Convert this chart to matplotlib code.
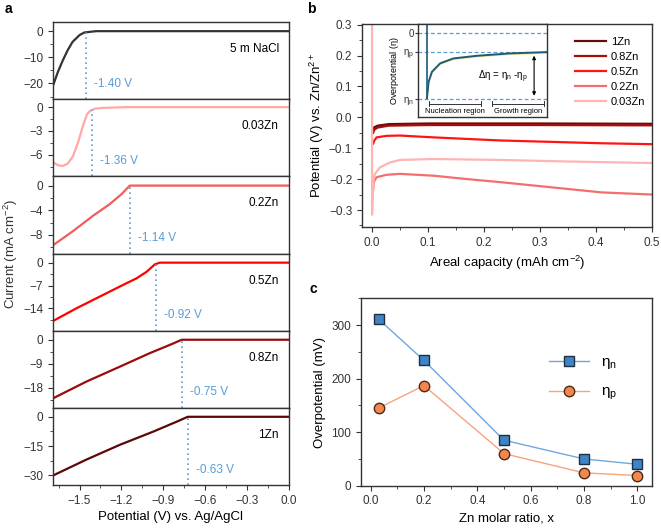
import numpy as np
import matplotlib
matplotlib.use('Agg')
import matplotlib.pyplot as plt
from matplotlib.ticker import MultipleLocator, AutoMinorLocator

plt.rcParams['font.family'] = ['Liberation Sans', 'DejaVu Sans']
plt.rcParams['mathtext.default'] = 'regular'
plt.rcParams['axes.edgecolor'] = '#333333'
plt.rcParams['axes.linewidth'] = 1.0
plt.rcParams['xtick.color'] = '#333333'
plt.rcParams['ytick.color'] = '#333333'

# ---------- panel a: LSV curves ----------
lsv_names = ['5 m NaCl', '0.03Zn', '0.2Zn', '0.5Zn', '0.8Zn', '1Zn']
lsv_onset_labels = ['-1.40 V', '-1.36 V', '-1.14 V', '-0.92 V', '-0.75 V', '-0.63 V']
lsv_onset_pos = [-1.455, -1.41, -1.14, -0.955, -0.768, -0.725]

v_nacl = [-1.69, -1.655, -1.62, -1.585, -1.55, -1.50, -1.465, -1.38, 0.0]
i_nacl = [-20.8, -15.6, -11.2, -7.3, -4.1, -1.5, -0.5, 0.0, 0.0]
v_003 = [-1.692, -1.656, -1.62, -1.584, -1.548, -1.512, -1.476, -1.447, -1.423, -1.392, -1.332, -1.165, 0.0]
i_003 = [-6.9, -7.3, -7.4, -7.1, -6.2, -4.5, -2.4, -0.9, -0.45, -0.2, -0.1, 0.0, 0.0]
v_02 = [-1.692, -1.548, -1.404, -1.284, -1.2, -1.14, 0.0]
i_02 = [-9.7, -7.4, -4.9, -3.0, -1.4, 0.0, 0.0]
v_05 = [-1.692, -1.524, -1.356, -1.188, -1.092, -1.02, -0.96, -0.924, 0.0]
i_05 = [-17.9, -14.0, -10.4, -6.8, -4.8, -2.8, -0.5, 0.0, 0.0]
v_08 = [-1.692, -1.452, -1.212, -0.996, -0.852, -0.768, 0.0]
i_08 = [-22.0, -15.7, -10.1, -5.0, -1.9, 0.0, 0.0]
v_1 = [-1.692, -1.452, -1.212, -0.972, -0.804, -0.725, 0.0]
i_1 = [-30.2, -22.0, -14.4, -7.6, -2.5, 0.0, 0.0]

lsv_v = [v_nacl, v_003, v_02, v_05, v_08, v_1]
lsv_i = [i_nacl, i_003, i_02, i_05, i_08, i_1]
lsv_colors = ['#333333', '#ffa8a8', '#f25c5c', '#ff0000', '#9b0b0b', '#5a0808']
lsv_ylims = [(-26, 3.5), (-8.7, 1.0), (-11, 1.5), (-20.8, 2.8), (-25.5, 3.4), (-35, 4.6)]
lsv_ystep = [10, 3, 4, 7, 9, 15]

# ---------- panel b: galvanostatic curves ----------
gcd_names = ['1Zn', '0.8Zn', '0.5Zn', '0.2Zn', '0.03Zn']
cap_1 = [0.002, 0.004, 0.01, 0.03, 0.1, 0.3, 0.5]
pot_1 = [-0.04, -0.032, -0.027, -0.022, -0.02, -0.02, -0.021]
cap_08 = [0.002, 0.004, 0.01, 0.03, 0.1, 0.3, 0.5]
pot_08 = [-0.05, -0.04, -0.033, -0.027, -0.025, -0.025, -0.026]
cap_05 = [0.002, 0.004, 0.008, 0.026, 0.05, 0.11, 0.17, 0.23, 0.29, 0.35, 0.41, 0.5]
pot_05 = [-0.085, -0.075, -0.065, -0.06, -0.059, -0.065, -0.07, -0.075, -0.078, -0.081, -0.084, -0.087]
cap_02 = [0.002, 0.003, 0.008, 0.026, 0.05, 0.11, 0.17, 0.23, 0.29, 0.35, 0.41, 0.5]
pot_02 = [-0.234, -0.21, -0.194, -0.186, -0.183, -0.189, -0.2, -0.21, -0.221, -0.232, -0.243, -0.25]
cap_003 = [0.0, 0.0, 0.002, 0.005, 0.014, 0.032, 0.05, 0.11, 0.23, 0.35, 0.5]
pot_003 = [0.35, -0.315, -0.21, -0.183, -0.162, -0.146, -0.138, -0.135, -0.138, -0.143, -0.148]

gcd_cap = [cap_1, cap_08, cap_05, cap_02, cap_003]
gcd_pot = [pot_1, pot_08, pot_05, pot_02, pot_003]
gcd_colors = ['#640c0c', '#a80d0d', '#ff1414', '#f46e6e', '#ffb4b4']

# inset sketch (arbitrary units)
sk_x = [0.069, 0.082, 0.108, 0.172, 0.274, 0.454, 0.71, 1.0]
sk_y = [-1.0, -0.745, -0.59, -0.46, -0.385, -0.345, -0.308, -0.288]

# ---------- panel c: overpotentials ----------
zn_ratio = [0.03, 0.2, 0.5, 0.8, 1.0]
eta_n = [311, 234, 85, 50, 40]
eta_p = [145, 187, 60, 24, 19]

W, H = 661, 529
fig = plt.figure(figsize=(W / 100, H / 100), dpi=100)


def px_axes(x0, y0, x1, y1):
    return fig.add_axes([x0 / W, 1 - y1 / H, (x1 - x0) / W, (y1 - y0) / H])


# panel a
top, bot = 22, 485
row_h = (bot - top) / 6
blue = '#5b9bd5'
axes_a = []
for k in range(6):
    ax = px_axes(53, top + k * row_h, 289, top + (k + 1) * row_h)
    axes_a.append(ax)
    ax.plot(lsv_v[k], lsv_i[k], color=lsv_colors[k], lw=1.6)
    ax.set_xlim(-1.69, 0.0)
    ax.set_ylim(*lsv_ylims[k])
    ax.yaxis.set_major_locator(MultipleLocator(lsv_ystep[k]))
    ax.yaxis.set_minor_locator(AutoMinorLocator(2))
    ax.xaxis.set_major_locator(MultipleLocator(0.3))
    ax.xaxis.set_minor_locator(AutoMinorLocator(2))
    ax.tick_params(which='both', direction='out', labelsize=8.5, length=3.5)
    ax.tick_params(which='minor', length=2)
    if k < 5:
        ax.tick_params(axis='x', labelbottom=False)
    x_on = lsv_onset_pos[k]
    y_on = np.interp(x_on, lsv_v[k], lsv_i[k])
    ax.vlines(x_on, lsv_ylims[k][0], y_on, colors=blue, linestyles=(0, (1, 2)), lw=1.2)
    ax.text(x_on + 0.06, 0.2, lsv_onset_labels[k], color=blue, fontsize=8.5,
            va='center', ha='left', transform=ax.get_xaxis_transform())
    ax.text(0.957, 0.65, lsv_names[k], fontsize=8.5, ha='right', va='center',
            transform=ax.transAxes)
axes_a[-1].set_xlabel('Potential (V) vs. Ag/AgCl', fontsize=9.5, labelpad=3)
fig.text(0.016, 1 - 253.5 / H, 'Current (mA cm$^{-2}$)', rotation=90,
         fontsize=9.5, ha='center', va='center', color='#333333')

# panel b
axb = px_axes(362, 24, 652, 227)
for cap, pot, col, name in zip(gcd_cap, gcd_pot, gcd_colors, gcd_names):
    axb.plot(cap, pot, color=col, lw=1.6, label=name)
axb.set_xlim(-0.018, 0.5)
axb.set_ylim(-0.355, 0.302)
axb.xaxis.set_major_locator(MultipleLocator(0.1))
axb.xaxis.set_minor_locator(AutoMinorLocator(2))
axb.yaxis.set_major_locator(MultipleLocator(0.1))
axb.yaxis.set_minor_locator(AutoMinorLocator(2))
axb.tick_params(which='both', direction='out', labelsize=8.5, length=3.5)
axb.tick_params(which='minor', length=2)
axb.set_xlabel('Areal capacity (mAh cm$^{-2}$)', fontsize=9.5)
axb.set_ylabel('Potential (V) vs. Zn/Zn$^{2+}$', fontsize=9.5, labelpad=2)
axb.legend(loc='upper right', bbox_to_anchor=(1.0, 0.97), frameon=False,
           fontsize=8, handlelength=2.8, labelspacing=0.45, borderaxespad=0.2,
           handletextpad=0.4)

# inset
axi = px_axes(418, 24, 547, 117)
axi.set_xlim(0, 1)
axi.set_ylim(-1.283, 0.143)
for yv in [0, -0.288, -1.0]:
    axi.axhline(yv, color=blue, ls=(0, (3, 2)), lw=0.9)
axi.plot([0.067, 0.067], [0.143, -1.0], color='#1f5a78', lw=1.2)
axi.plot(sk_x, np.array(sk_y) - 0.015, color='#f0e68c', lw=1.0)
axi.plot(sk_x, sk_y, color='#1f5a78', lw=1.4)
axi.set_xticks([])
axi.set_yticks([0, -0.288, -1.0])
axi.set_yticklabels(['0', '$\\eta_p$', '$\\eta_n$'])
axi.tick_params(axis='y', direction='out', labelsize=7, length=2, pad=1)
axi.set_ylabel('Overpotential ($\\eta$)', fontsize=6.5, labelpad=1)
axi.annotate('', xy=(0.9, -1.0), xytext=(0.9, -0.3),
             arrowprops=dict(arrowstyle='<|-|>', color='black', lw=0.8,
                             mutation_scale=5))
axi.text(0.66, -0.67, '$\\Delta\\eta$ = $\\eta_n$ -$\\eta_p$', fontsize=7,
         ha='center', va='center')
for xa, xb, lab in [(0.082, 0.49, 'Nucleation region'), (0.57, 0.98, 'Growth region')]:
    axi.plot([xa, xb], [-1.077, -1.077], color='#333333', lw=0.7)
    axi.plot([xa, xa], [-1.04, -1.11], color='#333333', lw=0.7)
    axi.plot([xb, xb], [-1.04, -1.11], color='#333333', lw=0.7)
    axi.text((xa + xb) / 2, -1.2, lab, fontsize=5.5, ha='center', va='center')

# panel c
axc = px_axes(361, 298.3, 651.7, 485.7)
axc.plot(zn_ratio, eta_n, color='#6fa8dc', lw=1.0, marker='s', ms=7.5,
         mfc='#3d85c6', mec='#1f2f40', mew=1.0, label='$\\eta_n$')
axc.plot(zn_ratio, eta_p, color='#f6a47c', lw=1.0, marker='o', ms=7.5,
         mfc='#f4874b', mec='#4a2a1a', mew=1.0, label='$\\eta_p$')
axc.set_xlim(-0.036, 1.054)
axc.set_ylim(0, 350)
axc.xaxis.set_major_locator(MultipleLocator(0.2))
axc.xaxis.set_minor_locator(AutoMinorLocator(2))
axc.yaxis.set_major_locator(MultipleLocator(100))
axc.yaxis.set_minor_locator(AutoMinorLocator(2))
axc.tick_params(which='both', direction='out', labelsize=8.5, length=3.5)
axc.tick_params(which='minor', length=2)
axc.set_xlabel('Zn molar ratio, x', fontsize=9.5)
axc.set_ylabel('Overpotential (mV)', fontsize=9.5)
axc.legend(loc='upper left', bbox_to_anchor=(0.6, 0.77), frameon=False,
           fontsize=11, handlelength=2.6, labelspacing=0.9)

fig.text(5 / W, 1 - 9 / H, 'a', fontsize=10, fontweight='bold', va='center')
fig.text(307 / W, 1 - 9 / H, 'b', fontsize=10, fontweight='bold', va='center')
fig.text(309 / W, 1 - 289 / H, 'c', fontsize=10, fontweight='bold', va='center')

fig.savefig('out.png', dpi=100)
